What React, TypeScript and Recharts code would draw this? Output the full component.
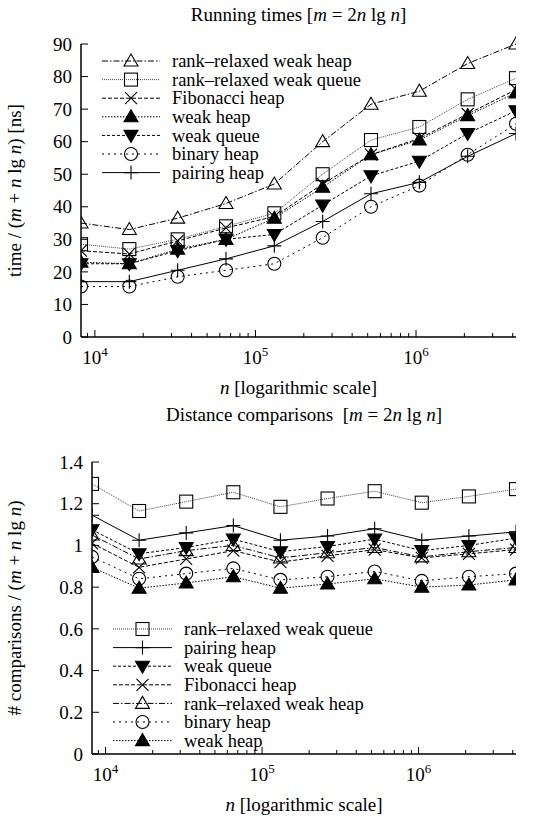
import { LineChart, Line, XAxis, YAxis, Legend, Label } from 'recharts';

// problem sizes n = 2^13 .. 2^22
const ns = [8192, 16384, 32768, 65536, 131072, 262144, 524288, 1048576, 2097152, 4194304];

// running times, ns per (m + n lg n)
const timeRrWeakHeap = [35, 33, 36.5, 41, 47, 60, 71.5, 75.5, 84, 90];
const timeRrWeakQueue = [28.5, 27, 30, 34, 38, 50, 60.5, 64.5, 73, 79.5];
const timeFibonacci = [26.5, 25.5, 29.5, 33.5, 37, 47, 56, 61, 68.5, 76];
const timeWeakHeap = [23, 22.5, 27, 30, 36.5, 46, 56, 60.5, 68, 75];
const timeWeakQueue = [22.5, 22.5, 26.5, 30, 31.5, 40.5, 49.5, 54, 62.5, 69.5];
const timeBinary = [15.5, 15.5, 18.5, 20.5, 22.5, 30.5, 40, 46.5, 56, 65.5];
const timePairing = [17, 17, 20.5, 24, 28, 35.5, 44, 47.5, 55.5, 62.5];

// distance comparisons per (m + n lg n)
const cmpRrWeakQueue = [1.295, 1.165, 1.21, 1.255, 1.185, 1.225, 1.26, 1.205, 1.235, 1.27];
const cmpPairing = [1.145, 1.025, 1.06, 1.095, 1.025, 1.045, 1.08, 1.025, 1.045, 1.065];
const cmpWeakQueue = [1.075, 0.96, 0.99, 1.03, 0.97, 0.995, 1.03, 0.975, 1.0, 1.035];
const cmpFibonacci = [1.01, 0.895, 0.935, 0.975, 0.92, 0.95, 0.98, 0.94, 0.96, 0.98];
const cmpRrWeakHeap = [1.05, 0.935, 0.975, 1.0, 0.94, 0.965, 0.99, 0.945, 0.97, 0.99];
const cmpBinary = [0.945, 0.84, 0.865, 0.89, 0.835, 0.85, 0.875, 0.83, 0.85, 0.865];
const cmpWeakHeap = [0.895, 0.795, 0.82, 0.85, 0.795, 0.815, 0.84, 0.8, 0.81, 0.835];

const names: Record<string, string> = {
  rrwh: 'rank–relaxed weak heap',
  rrwq: 'rank–relaxed weak queue',
  fib: 'Fibonacci heap',
  wh: 'weak heap',
  wq: 'weak queue',
  bin: 'binary heap',
  pair: 'pairing heap',
};

const timeOrder = ['rrwh', 'rrwq', 'fib', 'wh', 'wq', 'bin', 'pair'];
const cmpOrder = ['rrwq', 'pair', 'wq', 'fib', 'rrwh', 'bin', 'wh'];

const timeRows = ns.map((n, i) => ({
  n,
  rrwh: timeRrWeakHeap[i],
  rrwq: timeRrWeakQueue[i],
  fib: timeFibonacci[i],
  wh: timeWeakHeap[i],
  wq: timeWeakQueue[i],
  bin: timeBinary[i],
  pair: timePairing[i],
}));

const cmpRows = ns.map((n, i) => ({
  n,
  rrwq: cmpRrWeakQueue[i],
  pair: cmpPairing[i],
  wq: cmpWeakQueue[i],
  fib: cmpFibonacci[i],
  rrwh: cmpRrWeakHeap[i],
  bin: cmpBinary[i],
  wh: cmpWeakHeap[i],
}));

const xTicks = [
  9000, 10000, 20000, 30000, 40000, 50000, 60000, 70000, 80000, 90000,
  100000, 200000, 300000, 400000, 500000, 600000, 700000, 800000, 900000,
  1000000, 2000000, 3000000, 4000000,
];
const xMajor: Record<number, string> = { 10000: '4', 100000: '5', 1000000: '6' };
const timeTicks = [0, 10, 20, 30, 40, 50, 60, 70, 80, 90];
const cmpTicks = [0, 0.2, 0.4, 0.6, 0.8, 1, 1.2, 1.4];

type Mark = 'triUp' | 'square' | 'cross' | 'triUpFill' | 'triDownFill' | 'circle' | 'plus';

const look: Record<string, { dash?: string; mark: Mark; color: string }> = {
  rrwh: { dash: '6 2 1.5 2', mark: 'triUp', color: '#000' },
  rrwq: { dash: '1 1', mark: 'square', color: '#444' },
  fib: { dash: '4 2', mark: 'cross', color: '#000' },
  wh: { dash: '1.5 1.5', mark: 'triUpFill', color: '#000' },
  wq: { dash: '3 2', mark: 'triDownFill', color: '#000' },
  bin: { dash: '2 4', mark: 'circle', color: '#000' },
  pair: { mark: 'plus', color: '#000' },
};

const FONT = 19;
const SERIF = 'Liberation Serif';
const dom: [number, number] = [8192, 4194304];

function Marker({ cx, cy, mark }: { cx: number; cy: number; mark: Mark }) {
  const s = { stroke: '#000', strokeWidth: 1.1 };
  switch (mark) {
    case 'triUp':
      return <polygon points={`${cx},${cy - 7} ${cx - 7},${cy + 5} ${cx + 7},${cy + 5}`} fill="none" {...s} />;
    case 'triUpFill':
      return <polygon points={`${cx},${cy - 7} ${cx - 7},${cy + 5} ${cx + 7},${cy + 5}`} fill="#000" {...s} />;
    case 'triDownFill':
      return <polygon points={`${cx},${cy + 7} ${cx - 7},${cy - 5} ${cx + 7},${cy - 5}`} fill="#000" {...s} />;
    case 'square':
      return <rect x={cx - 6.5} y={cy - 6.5} width={13} height={13} fill="none" {...s} />;
    case 'cross':
      return <path d={`M${cx - 6},${cy - 6}L${cx + 6},${cy + 6}M${cx + 6},${cy - 6}L${cx - 6},${cy + 6}`} {...s} />;
    case 'circle':
      return <circle cx={cx} cy={cy} r={6.5} fill="none" {...s} />;
    default:
      return <path d={`M${cx - 7},${cy}L${cx + 7},${cy}M${cx},${cy - 7}L${cx},${cy + 7}`} {...s} />;
  }
}

const dotFor = (key: string) => (p: any) => (
  <Marker key={`${key}-${p.index}`} cx={p.cx} cy={p.cy} mark={look[key].mark} />
);

type Part = [string, boolean];
const Rich = ({ parts }: { parts: Part[] }) => (
  <>
    {parts.map(([t, it], i) => (
      <tspan key={i} fontStyle={it ? 'italic' : 'normal'}>{t}</tspan>
    ))}
  </>
);

const XTick = (side: 'bottom' | 'top') => (props: any) => {
  const { x, y, payload } = props;
  const exp = xMajor[payload.value];
  const len = exp ? 7 : 4;
  const dir = side === 'bottom' ? -1 : 1;
  return (
    <g>
      <line x1={x} x2={x} y1={y} y2={y + dir * len} stroke="#000" strokeWidth={1} />
      {exp && side === 'bottom' && (
        <text x={x} y={y + 27} textAnchor="middle" fontSize={FONT} fontFamily={SERIF} fill="#000">
          10<tspan dy={-8} fontSize={13}>{exp}</tspan>
        </text>
      )}
    </g>
  );
};

const YTick = (side: 'left' | 'right') => (props: any) => {
  const { x, y, payload } = props;
  const dir = side === 'left' ? 1 : -1;
  return (
    <g>
      <line x1={x} x2={x + dir * 7} y1={y} y2={y} stroke="#000" strokeWidth={1} />
      {side === 'left' && (
        <text x={x - 9} y={y} dy="0.35em" textAnchor="end" fontSize={FONT} fontFamily={SERIF} fill="#000">
          {String(payload.value)}
        </text>
      )}
    </g>
  );
};

// chart title, hung on the bottom x axis so it centres over the plot
const titleLabel = (parts: Part[]) => (props: any) => {
  const vb = props.viewBox;
  return (
    <text x={vb.x + vb.width / 2} y={21} textAnchor="middle" fontSize={FONT} fontFamily={SERIF} fill="#000" style={{ whiteSpace: 'pre' }}>
      <Rich parts={parts} />
    </text>
  );
};

const xLabel = (props: any) => {
  const vb = props.viewBox;
  return (
    <text x={vb.x + vb.width / 2} y={vb.y + 57} textAnchor="middle" fontSize={FONT} fontFamily={SERIF} fill="#000" style={{ whiteSpace: 'pre' }}>
      <Rich parts={[['n', true], [' [logarithmic scale]', false]]} />
    </text>
  );
};

const yLabel = (parts: Part[]) => (props: any) => {
  const vb = props.viewBox;
  const cy = vb.y + vb.height / 2;
  return (
    <text x={21} y={cy} transform={`rotate(-90 21 ${cy})`} textAnchor="middle" fontSize={FONT} fontFamily={SERIF} fill="#000" style={{ whiteSpace: 'pre' }}>
      <Rich parts={parts} />
    </text>
  );
};

const legendFor = (order: string[], textX: number) => (props: any) => {
  const items = [...(props.payload || [])].sort(
    (a: any, b: any) => order.indexOf(a.dataKey) - order.indexOf(b.dataKey),
  );
  const rowH = 18.6;
  return (
    <svg width={320} height={items.length * rowH + 4} style={{ display: 'block', overflow: 'visible' }}>
      {items.map((it: any, i: number) => {
        const k = it.dataKey as string;
        const cy = 9 + i * rowH;
        return (
          <g key={k}>
            <line x1={2} x2={textX - 12} y1={cy} y2={cy} stroke={look[k].color} strokeWidth={1} strokeDasharray={look[k].dash} />
            <Marker cx={(textX - 10) / 2} cy={cy} mark={look[k].mark} />
            <text x={textX} y={cy} dy="0.33em" fontSize={18.5} fontFamily={SERIF} fill="#000">{names[k]}</text>
          </g>
        );
      })}
    </svg>
  );
};

const timeTitle: Part[] = [['Running times [', false], ['m', true], [' = 2', false], ['n', true], [' lg ', false], ['n', true], [']', false]];
const cmpTitle: Part[] = [['Distance comparisons  [', false], ['m', true], [' = 2', false], ['n', true], [' lg ', false], ['n', true], [']', false]];

export default function App() {
  const axisLine = { stroke: '#000', strokeWidth: 1.5 };
  return (
    <div style={{ position: 'absolute', left: 0, top: 0, width: 547, height: 820, background: '#fff', fontFamily: SERIF }}>
      <LineChart width={547} height={400} data={timeRows} margin={{ top: 44, right: 31, bottom: 0, left: 0 }}>
        <XAxis dataKey="n" type="number" scale="log" domain={dom} allowDataOverflow ticks={xTicks} interval={0}
          height={63} axisLine={axisLine} tickLine={false} tickSize={0} tickMargin={0} tick={XTick('bottom')}>
          <Label content={xLabel} />
          <Label content={titleLabel(timeTitle)} />
        </XAxis>
        <XAxis xAxisId="t" orientation="top" dataKey="n" type="number" scale="log" domain={dom} allowDataOverflow ticks={xTicks} interval={0}
          height={0} axisLine={axisLine} tickLine={false} tickSize={0} tickMargin={0} tick={XTick('top')} />
        <YAxis type="number" domain={[0, 90]} ticks={timeTicks} interval={0} width={81} axisLine={axisLine}
          tickLine={false} tickSize={0} tickMargin={0} tick={YTick('left')}>
          <Label content={yLabel([['time / (', false], ['m', true], [' + ', false], ['n', true], [' lg ', false], ['n', true], [') [ns]', false]])} />
        </YAxis>
        <YAxis yAxisId="r" orientation="right" type="number" domain={[0, 90]} ticks={timeTicks} interval={0} width={0}
          axisLine={axisLine} tickLine={false} tickSize={0} tickMargin={0} tick={YTick('right')} />
        <Legend layout="vertical" align="center" verticalAlign="middle" content={legendFor(timeOrder, 72)}
          wrapperStyle={{ left: 100, top: 52, width: 320 }} />
        {timeOrder.map((k) => (
          <Line key={k} dataKey={k} name={names[k]} type="linear" stroke={look[k].color} strokeWidth={1}
            strokeDasharray={look[k].dash} dot={dotFor(k)} activeDot={false} isAnimationActive={false} />
        ))}
      </LineChart>
      <div style={{ position: 'absolute', left: 0, top: 400 }}>
        <LineChart width={547} height={420} data={cmpRows} margin={{ top: 62, right: 31, bottom: 0, left: 0 }}>
          <XAxis dataKey="n" type="number" scale="log" domain={dom} allowDataOverflow ticks={xTicks} interval={0}
            height={66} axisLine={axisLine} tickLine={false} tickSize={0} tickMargin={0} tick={XTick('bottom')}>
            <Label content={xLabel} />
            <Label content={titleLabel(cmpTitle)} />
          </XAxis>
          <XAxis xAxisId="t" orientation="top" dataKey="n" type="number" scale="log" domain={dom} allowDataOverflow ticks={xTicks} interval={0}
            height={0} axisLine={axisLine} tickLine={false} tickSize={0} tickMargin={0} tick={XTick('top')} />
          <YAxis type="number" domain={[0, 1.4]} ticks={cmpTicks} interval={0} width={92} axisLine={axisLine}
            tickLine={false} tickSize={0} tickMargin={0} tick={YTick('left')}>
            <Label content={yLabel([['# comparisons / (', false], ['m', true], [' + ', false], ['n', true], [' lg ', false], ['n', true], [')', false]])} />
          </YAxis>
          <YAxis yAxisId="r" orientation="right" type="number" domain={[0, 1.4]} ticks={cmpTicks} interval={0} width={0}
            axisLine={axisLine} tickLine={false} tickSize={0} tickMargin={0} tick={YTick('right')} />
          <Legend layout="vertical" align="center" verticalAlign="middle" content={legendFor(cmpOrder, 73)}
            wrapperStyle={{ left: 111, top: 220, width: 320 }} />
          {cmpOrder.map((k) => (
            <Line key={k} dataKey={k} name={names[k]} type="linear" stroke={look[k].color} strokeWidth={1}
              strokeDasharray={look[k].dash} dot={dotFor(k)} activeDot={false} isAnimationActive={false} />
          ))}
        </LineChart>
      </div>
    </div>
  );
}
